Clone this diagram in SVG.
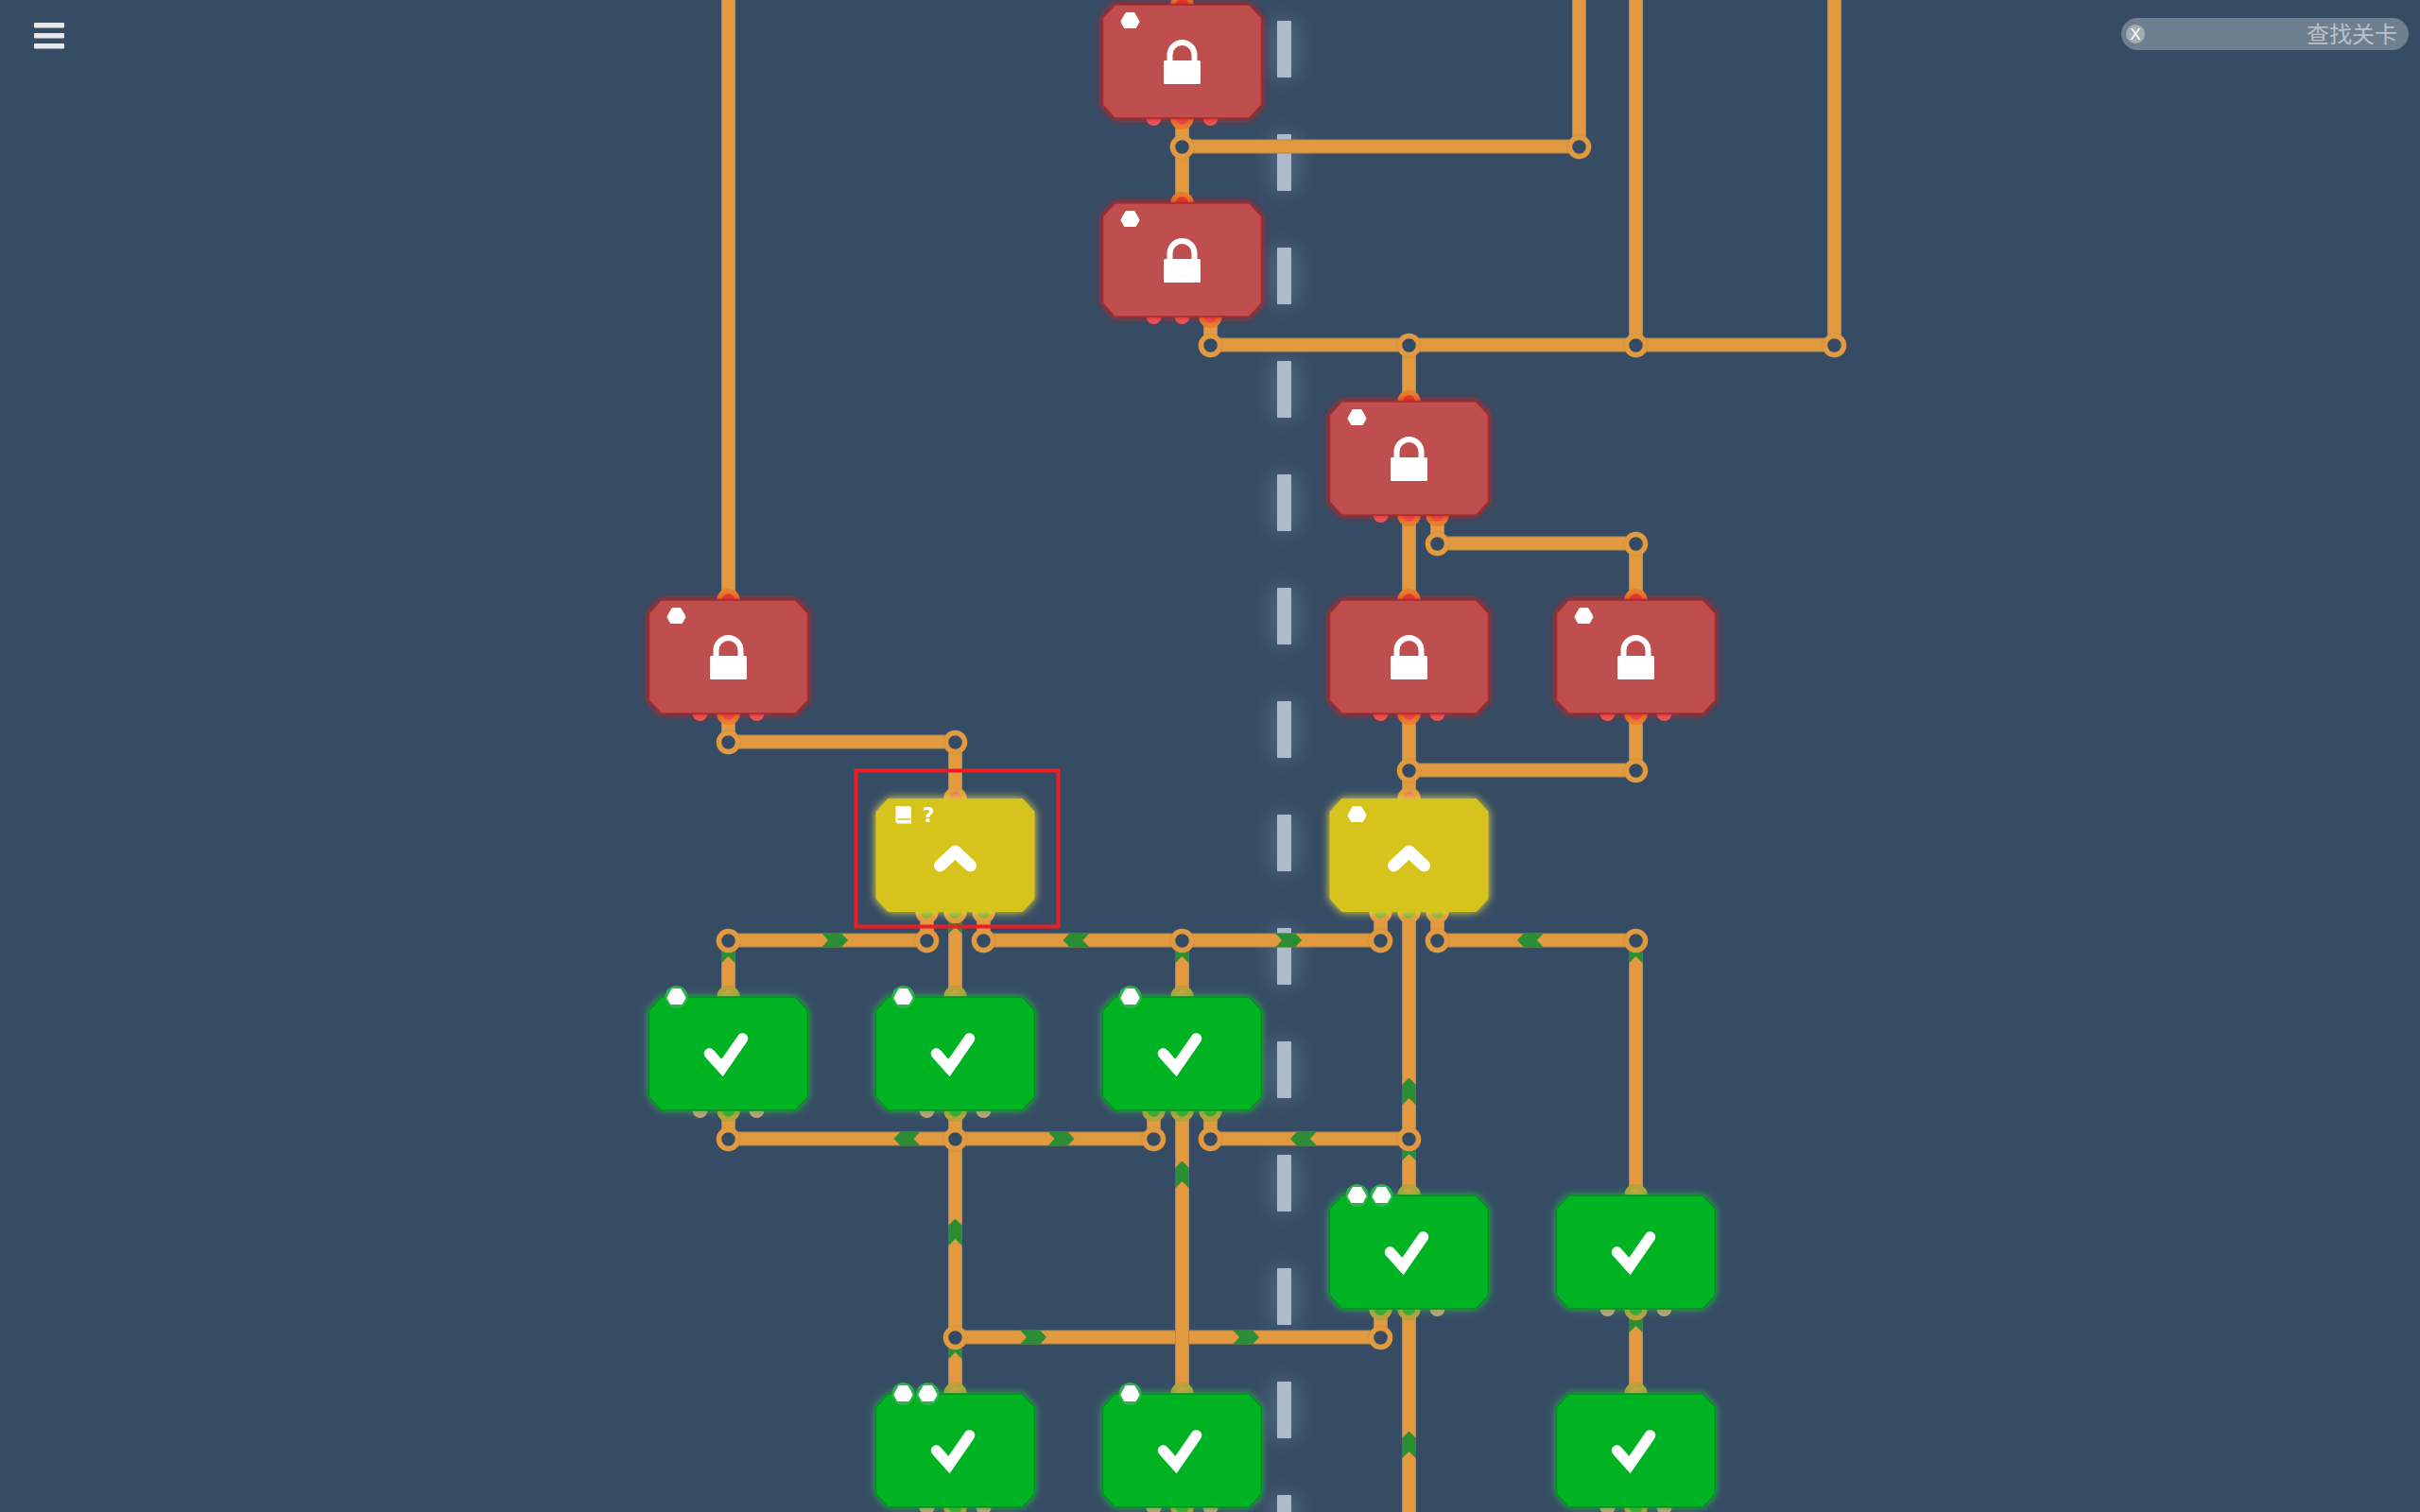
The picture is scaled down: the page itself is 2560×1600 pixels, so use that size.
<svg xmlns="http://www.w3.org/2000/svg" width="2560" height="1600" viewBox="0 0 2560 1600">
<style>
.w{fill:none;stroke-linecap:butt}
.wo{stroke:#b48a48;stroke-width:15}
.wi{stroke:#e29a40;stroke-width:13}
.ring{fill:#364c64;stroke:#e29a40;stroke-width:5.500}
.arr{fill:#2b8e37}
.dash{fill:#adbbca}
.dg{fill:#8fa3b8;opacity:.3}
.red .b{fill:#bf4f4f;stroke:#a82a2a;stroke-width:1.500}
.grn .b{fill:#00b320;stroke:#06901f;stroke-width:1.500}
.yel .b{fill:#d6c41c}
.p0{stroke:none}
.red .p0{fill:#ee5c5c}
.grn .p0{fill:#c9a078}
.p1{stroke-width:5.500}
.red .p1{stroke:#e8802e;fill:#ee5050}
.red .top{fill:#e63a2c}
.grn .p1{stroke:#b9a238;fill:#35a82f}
.grn .top{fill:#e09c3e}
.yel .p1{stroke:#e29a40;fill:#7cb030}
.yel .top{fill:#e57a50}
.ic{fill:none;stroke:#fff}
.gem{fill:#fff;stroke:#fff;stroke-width:2;stroke-linejoin:round}
.gg{fill:#2ab348}
text{font-family:"Liberation Sans","Noto Sans CJK SC",sans-serif}
</style>
<defs>
<filter id="fr" x="-20%" y="-20%" width="140%" height="140%"><feDropShadow dx="0" dy="0" stdDeviation="4.500" flood-color="#d01c1c" flood-opacity="1"/></filter>
<filter id="fg" x="-20%" y="-20%" width="140%" height="140%"><feDropShadow dx="0" dy="0" stdDeviation="4.500" flood-color="#30c050" flood-opacity=".8"/></filter>
<filter id="fy" x="-20%" y="-20%" width="140%" height="140%"><feDropShadow dx="0" dy="0" stdDeviation="5" flood-color="#f0e350" flood-opacity="1"/></filter>
<filter id="bl" x="-200%" y="-50%" width="500%" height="200%"><feGaussianBlur stdDeviation="10"/></filter>
<filter id="jo" x="-5%" y="-5%" width="110%" height="110%"><feDropShadow dx="0" dy="0" stdDeviation="0.700" flood-color="#5a4a28" flood-opacity=".9"/></filter>
<polygon id="shape" class="s" points="-71,-60 71,-60 84,-46 84,46 71,60 -71,60 -84,46 -84,-46"/>
<g id="lock"><rect x="-19.500" y="-1" width="39" height="25" rx="1.500" fill="#fff"/><path class="ic" stroke-width="6" d="M-13,2 V-7 A13,13 0 0 1 13,-7 V2"/></g>
<polyline id="check" class="ic" stroke-width="11.500" stroke-linecap="round" stroke-linejoin="miter" points="-20,0 -6.500,15 15,-16"/>
<polyline id="up" class="ic" stroke-width="13" stroke-linecap="round" stroke-linejoin="round" points="-16,11 0,-4 16,11"/>
<polygon id="gemg" class="gem" points="-4,-8 4,-8 7,-3 9,1 5.500,7 -5.500,7 -9,1 -7,-3"/>
<polygon id="ar" class="arr" points="-14,0 -7,-7.500 14,-7.500 7,0 14,7.500 -7,7.500"/>
<polygon id="au" class="arr" points="0,-14.500 7.500,-7 7.500,14.500 0,7 -7.500,14.500 -7.500,-7"/>
<path id="wires" class="w" d="M770.500,0V635 M770.500,755V785 M770.500,785H1010.500V845 M1250.500,0V5 M1250.500,125V215 M1250.500,155H1670.500V0 M1280.500,335V365 M1280.500,365H1940.500V0 M1730.500,0V365 M1490.500,365V425 M1520.500,545V575H1730.500V635 M1490.500,545V635 M1490.500,755V845 M1490.500,815H1730.500V755 M770.500,995H980.500V965 M1040.500,965V995H1460.500V965 M1010.500,965V1055 M770.500,995V1055 M1250.500,995V1055 M1490.500,965V1265 M1520.500,965V995H1730.500V1265 M770.500,1175V1205H1220.500V1175 M1010.500,1175V1475 M1280.500,1175V1205H1490.500 M1010.500,1415H1460.500V1385 M1490.500,1385V1600 M1730.500,1385V1475 M1010.500,1595V1600 M1250.500,1595V1600 M1730.500,1595V1600"/>
<path id="wv" class="w" d="M1250.500,1175V1475"/>
</defs>
<rect width="2560" height="1600" fill="#364c64"/>
<g id="divider">
<g filter="url(#bl)">
<rect class="dg" x="1344" y="22" width="30" height="60"/><rect class="dg" x="1344" y="142" width="30" height="60"/><rect class="dg" x="1344" y="262" width="30" height="60"/><rect class="dg" x="1344" y="382" width="30" height="60"/><rect class="dg" x="1344" y="502" width="30" height="60"/><rect class="dg" x="1344" y="622" width="30" height="60"/><rect class="dg" x="1344" y="742" width="30" height="60"/><rect class="dg" x="1344" y="862" width="30" height="60"/><rect class="dg" x="1344" y="982" width="30" height="60"/><rect class="dg" x="1344" y="1102" width="30" height="60"/><rect class="dg" x="1344" y="1222" width="30" height="60"/><rect class="dg" x="1344" y="1342" width="30" height="60"/><rect class="dg" x="1344" y="1462" width="30" height="60"/><rect class="dg" x="1344" y="1582" width="30" height="60"/>
</g>
<rect class="dash" x="1351" y="22" width="15" height="60"/><rect class="dash" x="1351" y="142" width="15" height="60"/><rect class="dash" x="1351" y="262" width="15" height="60"/><rect class="dash" x="1351" y="382" width="15" height="60"/><rect class="dash" x="1351" y="502" width="15" height="60"/><rect class="dash" x="1351" y="622" width="15" height="60"/><rect class="dash" x="1351" y="742" width="15" height="60"/><rect class="dash" x="1351" y="862" width="15" height="60"/><rect class="dash" x="1351" y="982" width="15" height="60"/><rect class="dash" x="1351" y="1102" width="15" height="60"/><rect class="dash" x="1351" y="1222" width="15" height="60"/><rect class="dash" x="1351" y="1342" width="15" height="60"/><rect class="dash" x="1351" y="1462" width="15" height="60"/><rect class="dash" x="1351" y="1582" width="15" height="60"/>
</g>
<g id="connectors">
<use href="#wires" class="wo"/>
<use href="#wires" class="wi"/>
<use href="#wv" class="wo"/>
<use href="#wv" class="wi"/>
<g id="arrows">
<use href="#ar" transform="translate(883,995) rotate(180)"/>
<use href="#ar" transform="translate(1138.500,995)"/>
<use href="#ar" transform="translate(1363,995) rotate(180)"/>
<use href="#ar" transform="translate(1619,995)"/>
<use href="#ar" transform="translate(959.500,1205)"/>
<use href="#ar" transform="translate(1122.500,1205) rotate(180)"/>
<use href="#ar" transform="translate(1379,1205)"/>
<use href="#ar" transform="translate(1093,1415) rotate(180)"/>
<use href="#ar" transform="translate(1318,1415) rotate(180)"/>
<use href="#au" x="770.500" y="1005"/>
<use href="#au" x="1250.500" y="1005"/>
<use href="#au" x="1730.500" y="1005"/>
<use href="#au" x="1010.500" y="974"/>
<use href="#au" x="1490.500" y="1155"/>
<use href="#au" x="1490.500" y="1214"/>
<use href="#au" x="1250.500" y="1243"/>
<use href="#au" x="1010.500" y="1304"/>
<use href="#au" x="1010.500" y="1424"/>
<use href="#au" x="1730.500" y="1396"/>
<use href="#au" x="1490.500" y="1529"/>
</g>
<g id="junctions" filter="url(#jo)">
<circle class="ring" cx="1250.500" cy="155.500" r="10"/><circle class="ring" cx="1670.500" cy="155.500" r="10"/>
<circle class="ring" cx="1280.500" cy="365.500" r="10"/><circle class="ring" cx="1490.500" cy="365.500" r="10"/><circle class="ring" cx="1730.500" cy="365.500" r="10"/><circle class="ring" cx="1940.500" cy="365.500" r="10"/>
<circle class="ring" cx="1520.500" cy="575.500" r="10"/><circle class="ring" cx="1730.500" cy="575.500" r="10"/>
<circle class="ring" cx="770.500" cy="785.500" r="10"/><circle class="ring" cx="1010.500" cy="785.500" r="10"/>
<circle class="ring" cx="1490.500" cy="815.500" r="10"/><circle class="ring" cx="1730.500" cy="815.500" r="10"/>
<circle class="ring" cx="770.500" cy="995.500" r="10"/><circle class="ring" cx="980.500" cy="995.500" r="10"/><circle class="ring" cx="1040.500" cy="995.500" r="10"/><circle class="ring" cx="1250.500" cy="995.500" r="10"/><circle class="ring" cx="1460.500" cy="995.500" r="10"/><circle class="ring" cx="1520.500" cy="995.500" r="10"/><circle class="ring" cx="1730.500" cy="995.500" r="10"/>
<circle class="ring" cx="770.500" cy="1205.500" r="10"/><circle class="ring" cx="1010.500" cy="1205.500" r="10"/><circle class="ring" cx="1220.500" cy="1205.500" r="10"/><circle class="ring" cx="1280.500" cy="1205.500" r="10"/><circle class="ring" cx="1490.500" cy="1205.500" r="10"/>
<circle class="ring" cx="1010.500" cy="1415.500" r="10"/><circle class="ring" cx="1460.500" cy="1415.500" r="10"/>
</g>
</g>

<g id="node-r1" class="red" transform="translate(1250.500,65)"><circle class="p1 top" cy="-60" r="9.500"/><circle class="p0" cx="-30" cy="60" r="8"/><circle class="p1" cy="60" r="9.500"/><circle class="p0" cx="30" cy="60" r="8"/><g filter="url(#fr)"><use href="#shape" class="b"/></g><use href="#gemg" x="-55" y="-43"/><use href="#lock"/></g>
<g id="node-r2" class="red" transform="translate(1250.500,275)"><circle class="p1 top" cy="-60" r="9.500"/><circle class="p0" cx="-30" cy="60" r="8"/><circle class="p0" cy="60" r="8"/><circle class="p1" cx="30" cy="60" r="9.500"/><g filter="url(#fr)"><use href="#shape" class="b"/></g><use href="#gemg" x="-55" y="-43"/><use href="#lock"/></g>
<g id="node-r3" class="red" transform="translate(1490.500,485)"><circle class="p1 top" cy="-60" r="9.500"/><circle class="p0" cx="-30" cy="60" r="8"/><circle class="p1" cy="60" r="9.500"/><circle class="p1" cx="30" cy="60" r="9.500"/><g filter="url(#fr)"><use href="#shape" class="b"/></g><use href="#gemg" x="-55" y="-43"/><use href="#lock"/></g>
<g id="node-r4" class="red" transform="translate(770.500,695)"><circle class="p1 top" cy="-60" r="9.500"/><circle class="p0" cx="-30" cy="60" r="8"/><circle class="p1" cy="60" r="9.500"/><circle class="p0" cx="30" cy="60" r="8"/><g filter="url(#fr)"><use href="#shape" class="b"/></g><use href="#gemg" x="-55" y="-43"/><use href="#lock"/></g>
<g id="node-r5" class="red" transform="translate(1490.500,695)"><circle class="p1 top" cy="-60" r="9.500"/><circle class="p0" cx="-30" cy="60" r="8"/><circle class="p1" cy="60" r="9.500"/><circle class="p0" cx="30" cy="60" r="8"/><g filter="url(#fr)"><use href="#shape" class="b"/></g><use href="#lock"/></g>
<g id="node-r6" class="red" transform="translate(1730.500,695)"><circle class="p1 top" cy="-60" r="9.500"/><circle class="p0" cx="-30" cy="60" r="8"/><circle class="p1" cy="60" r="9.500"/><circle class="p0" cx="30" cy="60" r="8"/><g filter="url(#fr)"><use href="#shape" class="b"/></g><use href="#gemg" x="-55" y="-43"/><use href="#lock"/></g>

<g id="node-y1" class="yel" transform="translate(1010.500,905)"><circle class="p1 top" cy="-60" r="9.500"/><circle class="p1" cx="-30" cy="60" r="9.500"/><circle class="p1" cy="60" r="9.500"/><circle class="p1" cx="30" cy="60" r="9.500"/><g filter="url(#fy)"><use href="#shape" class="b"/></g>
<path d="M-62,-52 H-49 Q-46.500,-52 -46.500,-49.500 V-33.500 H-60 Q-63,-33.500 -63,-36 V-50 Q-63,-52 -62,-52Z" fill="#fff"/><path d="M-61,-38 H-47" stroke="#d6c41c" stroke-width="1.500" fill="none"/>
<text x="-28.500" y="-35" text-anchor="middle" font-size="22" font-weight="700" style="font-family:'DejaVu Sans',sans-serif" fill="#fff">?</text>
<use href="#up"/></g>
<g id="node-y2" class="yel" transform="translate(1490.500,905)"><circle class="p1 top" cy="-60" r="9.500"/><circle class="p1" cx="-30" cy="60" r="9.500"/><circle class="p1" cy="60" r="9.500"/><circle class="p1" cx="30" cy="60" r="9.500"/><g filter="url(#fy)"><use href="#shape" class="b"/></g><use href="#gemg" x="-55" y="-43"/><use href="#up"/></g>

<g id="node-g1" class="grn" transform="translate(770.500,1115)"><circle class="p1 top" cy="-60" r="9.500"/><circle class="p0" cx="-30" cy="60" r="8"/><circle class="p1" cy="60" r="9.500"/><circle class="p0" cx="30" cy="60" r="8"/><g filter="url(#fg)"><use href="#shape" class="b"/></g><circle class="gg" cx="-55" cy="-60" r="12"/><use href="#gemg" x="-55" y="-60"/><use href="#check"/></g>
<g id="node-g2" class="grn" transform="translate(1010.500,1115)"><circle class="p1 top" cy="-60" r="9.500"/><circle class="p0" cx="-30" cy="60" r="8"/><circle class="p1" cy="60" r="9.500"/><circle class="p0" cx="30" cy="60" r="8"/><g filter="url(#fg)"><use href="#shape" class="b"/></g><circle class="gg" cx="-55" cy="-60" r="12"/><use href="#gemg" x="-55" y="-60"/><use href="#check"/></g>
<g id="node-g3" class="grn" transform="translate(1250.500,1115)"><circle class="p1 top" cy="-60" r="9.500"/><circle class="p1" cx="-30" cy="60" r="9.500"/><circle class="p1" cy="60" r="9.500"/><circle class="p1" cx="30" cy="60" r="9.500"/><g filter="url(#fg)"><use href="#shape" class="b"/></g><circle class="gg" cx="-55" cy="-60" r="12"/><use href="#gemg" x="-55" y="-60"/><use href="#check"/></g>
<g id="node-g4" class="grn" transform="translate(1490.500,1325)"><circle class="p1 top" cy="-60" r="9.500"/><circle class="p1" cx="-30" cy="60" r="9.500"/><circle class="p1" cy="60" r="9.500"/><circle class="p0" cx="30" cy="60" r="8"/><g filter="url(#fg)"><use href="#shape" class="b"/></g><circle class="gg" cx="-55" cy="-60" r="12"/><use href="#gemg" x="-55" y="-60"/><circle class="gg" cx="-29" cy="-60" r="12"/><use href="#gemg" x="-29" y="-60"/><use href="#check"/></g>
<g id="node-g5" class="grn" transform="translate(1730.500,1325)"><circle class="p1 top" cy="-60" r="9.500"/><circle class="p0" cx="-30" cy="60" r="8"/><circle class="p1" cy="60" r="9.500"/><circle class="p0" cx="30" cy="60" r="8"/><g filter="url(#fg)"><use href="#shape" class="b"/></g><use href="#check"/></g>
<g id="node-g6" class="grn" transform="translate(1010.500,1535)"><circle class="p1 top" cy="-60" r="9.500"/><circle class="p0" cx="-30" cy="60" r="8"/><circle class="p1" cy="60" r="9.500"/><circle class="p0" cx="30" cy="60" r="8"/><g filter="url(#fg)"><use href="#shape" class="b"/></g><circle class="gg" cx="-55" cy="-60" r="12"/><use href="#gemg" x="-55" y="-60"/><circle class="gg" cx="-29" cy="-60" r="12"/><use href="#gemg" x="-29" y="-60"/><use href="#check"/></g>
<g id="node-g7" class="grn" transform="translate(1250.500,1535)"><circle class="p1 top" cy="-60" r="9.500"/><circle class="p0" cx="-30" cy="60" r="8"/><circle class="p1" cy="60" r="9.500"/><circle class="p0" cx="30" cy="60" r="8"/><g filter="url(#fg)"><use href="#shape" class="b"/></g><circle class="gg" cx="-55" cy="-60" r="12"/><use href="#gemg" x="-55" y="-60"/><use href="#check"/></g>
<g id="node-g8" class="grn" transform="translate(1730.500,1535)"><circle class="p1 top" cy="-60" r="9.500"/><circle class="p0" cx="-30" cy="60" r="8"/><circle class="p1" cy="60" r="9.500"/><circle class="p0" cx="30" cy="60" r="8"/><g filter="url(#fg)"><use href="#shape" class="b"/></g><use href="#check"/></g>

<rect id="selection" x="905.500" y="815.500" width="214" height="165" fill="none" stroke="#ee1c25" stroke-width="4"/>

<g id="menu" fill="#e6e8ea"><rect x="36" y="24" width="32" height="5.500" rx="1"/><rect x="36" y="35" width="32" height="5.500" rx="1"/><rect x="36" y="46" width="32" height="5.500" rx="1"/></g>
<g id="search"><rect x="2244" y="19" width="304" height="34" rx="17" fill="#6e7f90"/><circle cx="2259" cy="36" r="10" fill="#a3adb6"/><text x="2259" y="42" text-anchor="middle" font-size="17" fill="#fff">X</text><text x="2536" y="45" text-anchor="end" font-size="24" fill="#b9c1c9">查找关卡</text></g>
</svg>
